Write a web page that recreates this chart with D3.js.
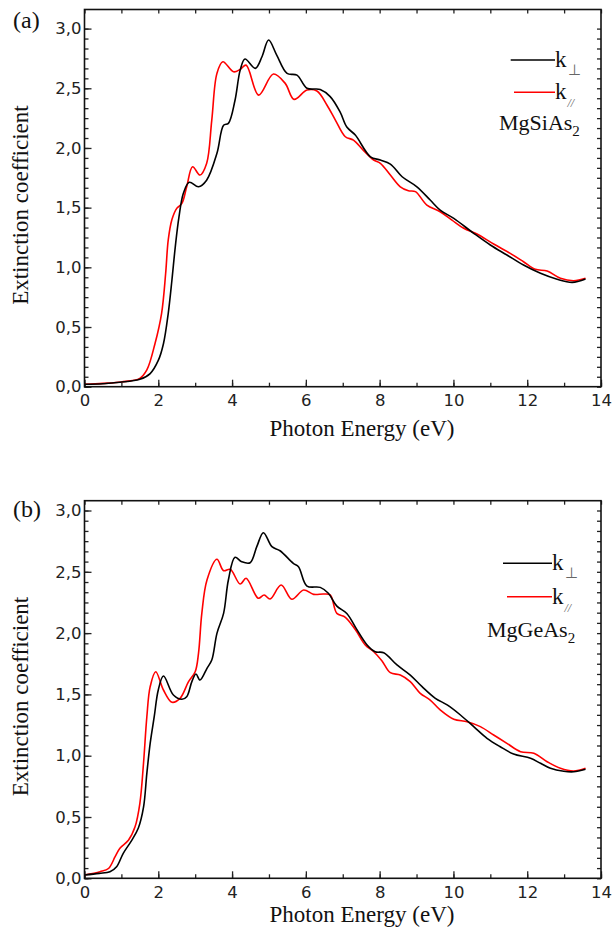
<!DOCTYPE html>
<html>
<head>
<meta charset="utf-8">
<script src="https://cdn.jsdelivr.net/npm/d3@7"></script>
<style>
  body { margin: 0; background: #fff; }
  svg { display: block; }
  .tick text { font-family: "DejaVu Sans", "Liberation Sans", Arial, sans-serif; font-size: 16.5px; fill: #222; }
  .serif { font-family: "Liberation Serif", "Times New Roman", serif; fill: #111; }
</style>
</head>
<body>
<svg id="chart" width="615" height="929"></svg>
<script>
// photon energy (eV) / extinction coefficient
const aPerpE = [0, 0.5, 0.96, 1.5, 1.78, 2.0, 2.14, 2.27, 2.37, 2.46, 2.56, 2.68, 2.84, 3.09, 3.31, 3.59, 3.77, 3.9, 4.08, 4.22, 4.35, 4.63, 4.81, 4.99, 5.21, 5.49, 5.76, 6.03, 6.39, 6.66, 6.93, 7.11, 7.34, 7.75, 8.02, 8.29, 8.61, 9.01, 9.37, 9.64, 10.01, 10.55, 11.0, 11.45, 11.9, 12.36, 12.81, 13.22, 13.58]
const aPerpK = [0.02, 0.025, 0.037, 0.062, 0.11, 0.22, 0.36, 0.615, 0.894, 1.17, 1.42, 1.62, 1.712, 1.675, 1.73, 1.955, 2.19, 2.206, 2.4, 2.652, 2.745, 2.667, 2.764, 2.904, 2.778, 2.625, 2.61, 2.5, 2.49, 2.43, 2.3, 2.175, 2.108, 1.926, 1.899, 1.865, 1.759, 1.675, 1.564, 1.48, 1.41, 1.285, 1.187, 1.103, 1.019, 0.95, 0.9, 0.874, 0.902]

const aParE = [0, 0.5, 1.0, 1.5, 1.69, 1.91, 2.09, 2.2, 2.27, 2.37, 2.5, 2.64, 2.77, 2.93, 3.13, 3.31, 3.45, 3.59, 3.75, 4.04, 4.22, 4.38, 4.72, 5.12, 5.44, 5.68, 6.03, 6.3, 6.57, 6.8, 7.07, 7.29, 7.56, 7.84, 8.02, 8.29, 8.56, 8.78, 8.97, 9.28, 9.64, 9.96, 10.28, 10.64, 11.09, 11.54, 11.9, 12.22, 12.54, 12.9, 13.26, 13.58]
const aParK = [0.02, 0.028, 0.04, 0.07, 0.14, 0.36, 0.615, 0.95, 1.23, 1.4, 1.494, 1.536, 1.675, 1.843, 1.773, 1.87, 2.234, 2.625, 2.722, 2.638, 2.658, 2.694, 2.443, 2.619, 2.541, 2.407, 2.485, 2.477, 2.36, 2.234, 2.094, 2.066, 1.98, 1.899, 1.871, 1.773, 1.675, 1.642, 1.634, 1.522, 1.466, 1.396, 1.327, 1.279, 1.195, 1.117, 1.047, 0.983, 0.969, 0.908, 0.888, 0.908]

const bPerpE = [0, 0.4, 0.69, 0.87, 1.05, 1.28, 1.46, 1.6, 1.69, 1.78, 1.89, 2.0, 2.14, 2.41, 2.64, 2.77, 2.91, 3.02, 3.13, 3.32, 3.45, 3.59, 3.77, 3.9, 4.08, 4.26, 4.49, 4.67, 4.85, 5.08, 5.3, 5.66, 5.8, 6.03, 6.39, 6.61, 6.84, 7.11, 7.38, 7.66, 7.88, 8.11, 8.47, 8.83, 9.15, 9.51, 9.83, 10.19, 10.55, 10.91, 11.27, 11.63, 12.09, 12.36, 12.63, 12.99, 13.26, 13.58]
const bPerpK = [0.027, 0.04, 0.054, 0.095, 0.204, 0.31, 0.41, 0.58, 0.856, 1.1, 1.318, 1.536, 1.65, 1.495, 1.46, 1.481, 1.604, 1.666, 1.617, 1.713, 1.78, 1.998, 2.161, 2.433, 2.618, 2.582, 2.574, 2.705, 2.819, 2.705, 2.672, 2.569, 2.542, 2.384, 2.373, 2.325, 2.22, 2.16, 2.03, 1.903, 1.848, 1.84, 1.74, 1.658, 1.563, 1.468, 1.414, 1.332, 1.237, 1.142, 1.073, 1.014, 0.979, 0.938, 0.897, 0.873, 0.869, 0.889]

const bParE = [0, 0.42, 0.65, 0.83, 0.96, 1.19, 1.37, 1.5, 1.6, 1.69, 1.78, 1.93, 2.14, 2.37, 2.59, 2.82, 3.0, 3.09, 3.18, 3.32, 3.59, 3.77, 3.95, 4.22, 4.38, 4.71, 4.87, 5.03, 5.33, 5.62, 5.94, 6.21, 6.48, 6.66, 6.84, 7.07, 7.34, 7.61, 7.84, 8.06, 8.29, 8.56, 8.83, 9.1, 9.37, 9.64, 10.01, 10.37, 10.73, 11.09, 11.45, 11.82, 12.18, 12.54, 12.9, 13.26, 13.58]
const bParK = [0.027, 0.054, 0.08, 0.176, 0.245, 0.31, 0.42, 0.61, 0.94, 1.318, 1.563, 1.685, 1.536, 1.436, 1.468, 1.604, 1.685, 1.835, 2.161, 2.433, 2.602, 2.509, 2.52, 2.4, 2.447, 2.284, 2.311, 2.278, 2.392, 2.276, 2.352, 2.316, 2.319, 2.311, 2.161, 2.129, 2.029, 1.903, 1.848, 1.775, 1.677, 1.658, 1.604, 1.509, 1.454, 1.373, 1.297, 1.277, 1.237, 1.169, 1.101, 1.033, 1.02, 0.951, 0.897, 0.875, 0.897]

const xTicks = [0, 2, 4, 6, 8, 10, 12, 14]
const yTicks = [0, 0.5, 1.0, 1.5, 2.0, 2.5, 3.0]
const panelTags = ['(a)', '(b)']
const compounds = [['MgSiAs', '2'], ['MgGeAs', '2']]

const svg = d3.select('#chart')
const fmt = d => d3.format('.1f')(d).replace('.', ',')

const zip = (xs, ys) => xs.map((x, i) => ({ e: x, k: ys[i] }))

const panels = [
    { top: 9.5, bottom: 386.7, ymax: 3.16, perp: zip(aPerpE, aPerpK), par: zip(aParE, aParK),
      legY: [60, 92.3], legX: [[510.7, 555], [514, 555]], nameX: 499, nameY: 130, titleY: 436, tagY: 28 },
    { top: 500.7, bottom: 878.3, ymax: 3.08, perp: zip(bPerpE, bPerpK), par: zip(bParE, bParK),
      legY: [563.3, 596.7], legX: [[503, 552], [507, 552]], nameX: 487, nameY: 636.7, titleY: 922, tagY: 517 }
]

const x = d3.scaleLinear().domain([0, 14]).range([84.5, 601])

panels.forEach((p, idx) => {
    const y = d3.scaleLinear().domain([0, p.ymax]).range([p.bottom, p.top])
    const g = svg.append('g')

    const minorY = d3.range(0, 37).map(i => i * 0.5 / 6).filter(v => v <= p.ymax + 1e-9)
    const minorX = d3.range(0, 15)

    // minor ticks first, then major ones with labels
    g.append('g').attr('transform', `translate(${x.range()[0]},0)`)
        .call(d3.axisLeft(y).tickValues(minorY).tickSize(-4).tickFormat(''))
    g.append('g').attr('transform', `translate(${x.range()[1]},0)`)
        .call(d3.axisRight(y).tickValues(minorY).tickSize(-4).tickFormat(''))
    g.append('g').attr('transform', `translate(0,${p.bottom})`)
        .call(d3.axisBottom(x).tickValues(minorX).tickSize(-4).tickFormat(''))
    g.append('g').attr('transform', `translate(0,${p.top})`)
        .call(d3.axisTop(x).tickValues(minorX).tickSize(-4).tickFormat(''))

    g.append('g').attr('transform', `translate(${x.range()[0]},0)`)
        .call(d3.axisLeft(y).tickValues(yTicks).tickSize(-7).tickPadding(3).tickFormat(fmt))
    g.append('g').attr('transform', `translate(0,${p.bottom})`)
        .call(d3.axisBottom(x).tickValues(xTicks).tickSize(-7).tickPadding(8).tickFormat(d3.format('d')))

    g.selectAll('.domain').remove()
    g.selectAll('.tick line').attr('stroke', '#222').attr('stroke-width', 1.3)

    const line = d3.line().x(d => x(d.e)).y(d => y(d.k)).curve(d3.curveCatmullRom.alpha(0.5))

    g.append('path').datum(p.par).attr('d', line)
        .attr('fill', 'none').attr('stroke', '#ff0000').attr('stroke-width', 1.6)
    g.append('path').datum(p.perp).attr('d', line)
        .attr('fill', 'none').attr('stroke', '#000').attr('stroke-width', 1.6)

    g.append('rect')
        .attr('x', x.range()[0]).attr('y', p.top)
        .attr('width', x.range()[1] - x.range()[0]).attr('height', p.bottom - p.top)
        .attr('fill', 'none').attr('stroke', '#111').attr('stroke-width', 1.6)

    // legend
    const legColors = ['#000', '#ff0000']
    const subs = ['\u22A5', '//']
    p.legY.forEach((ly, i) => {
        g.append('line')
            .attr('x1', p.legX[i][0]).attr('x2', p.legX[i][1])
            .attr('y1', ly).attr('y2', ly)
            .attr('stroke', legColors[i]).attr('stroke-width', 1.6)
        const t = g.append('text').attr('class', 'serif')
            .attr('x', p.legX[i][1]).attr('y', ly + 7)
            .style('font-size', '23px')
        t.append('tspan').text('k')
        t.append('tspan').text(subs[i])
            .attr('dy', 8).attr('dx', 1)
            .style('font-size', i === 0 ? '15px' : '12px')
            .style('font-style', i === 0 ? 'normal' : 'italic')
            .attr('fill', '#666')
    })

    const nm = g.append('text').attr('class', 'serif')
        .attr('x', p.nameX).attr('y', p.nameY).style('font-size', '22px')
    nm.append('tspan').text(compounds[idx][0])
    nm.append('tspan').text(compounds[idx][1]).attr('dy', 6).style('font-size', '15px')

    // titles
    g.append('text').attr('class', 'serif')
        .attr('x', 13).attr('y', p.tagY)
        .style('font-size', '24px').text(panelTags[idx])

    g.append('text').attr('class', 'serif')
        .attr('transform', `translate(28,${(p.top + p.bottom) / 2 + 7}) rotate(-90)`)
        .attr('text-anchor', 'middle').style('font-size', '23px')
        .text('Extinction coefficient')

    g.append('text').attr('class', 'serif')
        .attr('x', 362).attr('y', p.titleY)
        .attr('text-anchor', 'middle').style('font-size', '23px')
        .text('Photon Energy (eV)')
})
</script>
</body>
</html>
